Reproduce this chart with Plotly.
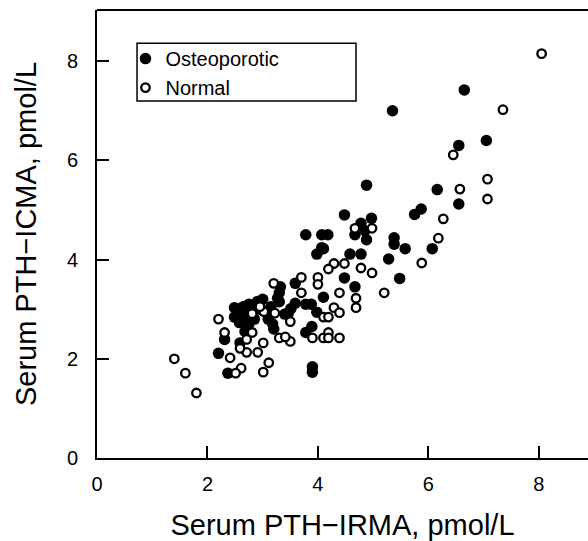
import plotly.graph_objects as go

# ---- data ----
osteo_x = [6.65, 5.35, 7.05, 6.55, 4.88, 6.16, 6.55, 5.75, 5.87, 6.07, 5.28, 5.38, 5.38, 5.58, 5.48,
           4.48, 3.78, 4.07, 4.18, 4.07, 3.98, 4.10, 4.97, 4.78, 4.67, 4.88, 4.85, 4.58, 4.78, 4.48,
           4.67, 4.10, 3.59, 3.59, 3.30, 3.27, 3.78, 3.88, 3.98, 3.46, 3.51, 3.78, 3.89, 3.90, 3.90,
           3.20, 3.18, 3.32, 2.20, 2.31, 2.37, 2.49, 2.49, 2.58, 2.59, 2.68, 2.55, 2.65, 2.70, 2.75,
           2.80, 2.85, 2.90, 2.95, 3.00, 3.05, 3.10, 2.75, 2.65, 3.15, 3.40, 3.30]
osteo_y = [7.42, 7.00, 6.40, 6.30, 5.50, 5.41, 5.12, 4.91, 5.02, 4.22, 4.01, 4.44, 4.31, 4.22, 3.62,
           4.90, 4.50, 4.50, 4.50, 4.24, 4.11, 4.22, 4.83, 4.73, 4.50, 4.40, 4.58, 4.11, 4.11, 3.63,
           3.45, 3.24, 3.52, 3.12, 3.33, 3.22, 3.10, 3.10, 2.94, 2.91, 3.01, 2.53, 2.65, 1.84, 1.73,
           2.60, 2.70, 3.45, 2.11, 2.39, 1.71, 3.03, 2.84, 2.73, 2.32, 2.55, 3.00, 3.05, 2.90, 3.10,
           2.95, 2.80, 3.15, 3.00, 3.20, 2.95, 2.80, 2.70, 2.85, 3.05, 2.90, 3.15]

normal_x = [8.05, 7.35, 6.45, 7.07, 7.07, 6.57, 6.27, 6.18, 5.88, 5.20, 4.98, 4.67, 4.98, 4.78,
            4.48, 4.29, 4.19, 3.70, 3.70, 4.00, 4.39, 4.69, 4.69, 4.29, 4.39, 4.10, 4.19, 4.10,
            4.19, 4.19, 4.39, 3.90, 3.50, 3.50, 3.30, 3.41, 3.22, 3.20, 2.81, 3.01, 3.01, 3.11,
            2.91, 2.81, 2.71, 2.71, 2.59, 2.61, 2.51, 2.41, 2.31, 2.20, 1.40, 1.60, 1.80, 3.02,
            2.95, 4.00]
normal_y = [8.15, 7.02, 6.11, 5.62, 5.22, 5.42, 4.82, 4.43, 3.93, 3.33, 4.63, 4.63, 3.73, 3.83,
            3.92, 3.92, 3.81, 3.64, 3.33, 3.64, 3.33, 3.22, 3.03, 3.03, 2.93, 2.84, 2.84, 2.42,
            2.53, 2.42, 2.42, 2.42, 2.75, 2.35, 2.42, 2.44, 2.92, 3.52, 2.91, 2.32, 1.73, 1.92,
            2.13, 2.53, 2.39, 2.13, 2.21, 1.81, 1.71, 2.02, 2.53, 2.80, 2.00, 1.71, 1.31, 2.95,
            3.05, 3.50]

x_ticks = [0, 2, 4, 6, 8]
y_ticks = [0, 2, 4, 6, 8]

FONT = "Liberation Sans, Arial, Helvetica, sans-serif"

fig = go.Figure()
fig.add_trace(go.Scatter(
    x=osteo_x, y=osteo_y, mode="markers", name="Osteoporotic",
    marker=dict(symbol="circle", size=11.5, color="black", line=dict(width=0)),
))
fig.add_trace(go.Scatter(
    x=normal_x, y=normal_y, mode="markers", name="Normal",
    marker=dict(symbol="circle", size=8.5, color="white", line=dict(width=2.3, color="black")),
))

axis_common = dict(
    showgrid=False, zeroline=False, showline=True, linecolor="black", linewidth=2,
    ticks="inside", ticklen=12, tickwidth=2, tickcolor="black",
    tickfont=dict(family=FONT, size=20, color="black"),
)

fig.update_layout(
    width=588, height=541,
    margin=dict(l=97, r=0, t=10, b=83),
    paper_bgcolor="white", plot_bgcolor="white",
    font=dict(family=FONT, color="black"),
    xaxis=dict(range=[0, 8.89], tickvals=x_ticks, ticklabelstandoff=7,
               title=dict(text="Serum PTH−IRMA, pmol/L", font=dict(family=FONT, size=29), standoff=22),
               **axis_common),
    yaxis=dict(range=[0, 9.03], tickvals=y_ticks, ticklabelstandoff=13,
               title=dict(text="Serum PTH−ICMA, pmol/L", font=dict(family=FONT, size=29), standoff=22),
               **axis_common),
    showlegend=True,
    legend=dict(x=0.058, y=0.935, xanchor="left", yanchor="top",
                bgcolor="rgba(0,0,0,0)", borderwidth=0,
                font=dict(family=FONT, size=20, color="black"),
                itemwidth=30),
    shapes=[
        dict(type="line", xref="paper", yref="paper", x0=0, x1=1, y0=1, y1=1,
             line=dict(color="black", width=2)),
        dict(type="rect", xref="paper", yref="paper", x0=0.0815, x1=0.5275, y0=0.797, y1=0.926,
             line=dict(color="black", width=1.5), fillcolor="rgba(0,0,0,0)", layer="below"),
    ],
)

fig.write_html("out.html")
